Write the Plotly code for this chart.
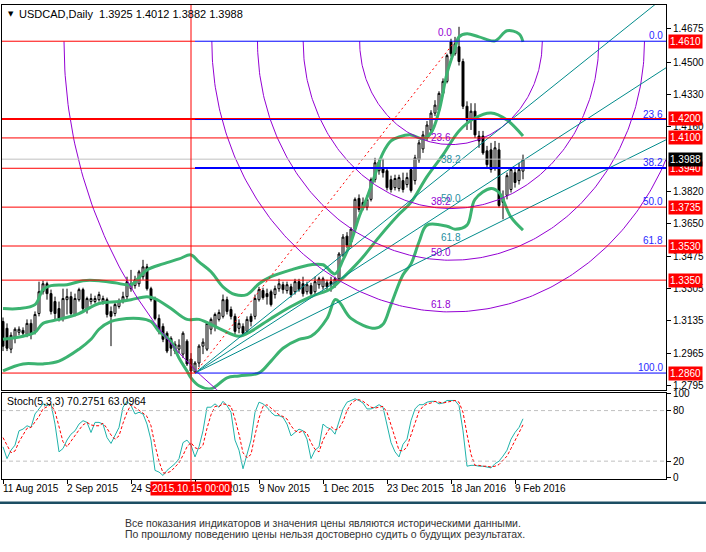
import numpy as np
import plotly.graph_objects as go

# USDCAD Daily, bar 0 = 11 Aug 2015 (um candle por dia de pregão)
bar_open = [1.3132, 1.3096, 1.2986, 1.3049, 1.3075, 1.3085, 1.3064, 1.3122, 1.3080, 1.3174,
            1.3289, 1.3331, 1.3279, 1.3237, 1.3200, 1.3148, 1.3247, 1.3263, 1.3169, 1.3247,
            1.3300, 1.3195, 1.3237, 1.3237, 1.3247, 1.3237, 1.3247, 1.3185, 1.3174, 1.3211,
            1.3237, 1.3263, 1.3305, 1.3321, 1.3331, 1.3368, 1.3420, 1.3305, 1.3253, 1.3148,
            1.3106, 1.3070, 1.3043, 1.2976, 1.2986, 1.2960, 1.3028, 1.2934, 1.2866, 1.2913,
            1.3002, 1.2986, 1.3091, 1.3106, 1.3143, 1.3159, 1.3247, 1.3195, 1.3159, 1.3096,
            1.3106, 1.3080, 1.3159, 1.3159, 1.3247, 1.3295, 1.3279, 1.3289, 1.3274, 1.3305,
            1.3326, 1.3295, 1.3315, 1.3289, 1.3342, 1.3331, 1.3289, 1.3321, 1.3289, 1.3326,
            1.3315, 1.3336, 1.3342, 1.3321, 1.3357, 1.3483, 1.3582, 1.3551, 1.3619, 1.3781,
            1.3760, 1.3734, 1.3776, 1.3880, 1.3927, 1.3943, 1.3927, 1.3880, 1.3838, 1.3833,
            1.3875, 1.3854, 1.3933, 1.3875, 1.3985, 1.4042, 1.4100, 1.4142, 1.4231, 1.4246,
            1.4335, 1.4398, 1.4607, 1.4544, 1.4581, 1.4503, 1.4267, 1.4194, 1.4241, 1.4110,
            1.4110, 1.4032, 1.4037, 1.3943, 1.4037, 1.3786, 1.3797, 1.3828, 1.3917, 1.3875,
            1.3925]
bar_high = [1.3153, 1.3122, 1.3075, 1.3101, 1.3106, 1.3101, 1.3143, 1.3143, 1.3185, 1.3342,
            1.3347, 1.3342, 1.3300, 1.3263, 1.3237, 1.3305, 1.3305, 1.3289, 1.3279, 1.3310,
            1.3310, 1.3263, 1.3279, 1.3268, 1.3289, 1.3268, 1.3258, 1.3211, 1.3237, 1.3253,
            1.3289, 1.3368, 1.3404, 1.3373, 1.3404, 1.3457, 1.3436, 1.3315, 1.3263, 1.3169,
            1.3122, 1.3080, 1.3054, 1.3028, 1.3038, 1.3080, 1.3038, 1.2965, 1.2923, 1.3012,
            1.3043, 1.3132, 1.3153, 1.3179, 1.3195, 1.3274, 1.3263, 1.3211, 1.3174, 1.3143,
            1.3122, 1.3159, 1.3174, 1.3274, 1.3315, 1.3310, 1.3305, 1.3300, 1.3321, 1.3357,
            1.3342, 1.3342, 1.3331, 1.3357, 1.3357, 1.3368, 1.3342, 1.3336, 1.3368, 1.3368,
            1.3368, 1.3352, 1.3368, 1.3368, 1.3498, 1.3593, 1.3603, 1.3629, 1.3786, 1.3802,
            1.3786, 1.3797, 1.3891, 1.3995, 1.3990, 1.3990, 1.3943, 1.3901, 1.3906, 1.3906,
            1.3917, 1.3917, 1.3943, 1.4011, 1.4089, 1.4137, 1.4189, 1.4246, 1.4299, 1.4346,
            1.4414, 1.4544, 1.4623, 1.4633, 1.4686, 1.4518, 1.4293, 1.4283, 1.4283, 1.4137,
            1.4137, 1.4058, 1.4074, 1.4084, 1.4074, 1.3823, 1.3917, 1.3943, 1.3943, 1.3969,
            1.4012]
bar_low = [1.2976, 1.2976, 1.2965, 1.3017, 1.3059, 1.3049, 1.3049, 1.3038, 1.3064, 1.3159,
           1.3274, 1.3247, 1.3169, 1.3143, 1.3132, 1.3132, 1.3169, 1.3159, 1.3159, 1.3237,
           1.3185, 1.3174, 1.3221, 1.3227, 1.3237, 1.3221, 1.3153, 1.3002, 1.3159, 1.3200,
           1.3227, 1.3247, 1.3289, 1.3305, 1.3315, 1.3352, 1.3295, 1.3237, 1.3138, 1.3064,
           1.3023, 1.2965, 1.2949, 1.2960, 1.2965, 1.2939, 1.2897, 1.2840, 1.2860, 1.2892,
           1.2960, 1.2976, 1.3064, 1.3080, 1.3132, 1.3148, 1.3169, 1.3143, 1.3064, 1.3070,
           1.3054, 1.3064, 1.3106, 1.3143, 1.3237, 1.3247, 1.3221, 1.3211, 1.3253, 1.3289,
           1.3279, 1.3279, 1.3258, 1.3274, 1.3289, 1.3263, 1.3274, 1.3268, 1.3274, 1.3305,
           1.3300, 1.3289, 1.3289, 1.3310, 1.3347, 1.3472, 1.3519, 1.3525, 1.3608, 1.3708,
           1.3718, 1.3718, 1.3765, 1.3865, 1.3906, 1.3891, 1.3823, 1.3812, 1.3823, 1.3818,
           1.3812, 1.3838, 1.3812, 1.3854, 1.3969, 1.4021, 1.4084, 1.4126, 1.4215, 1.4231,
           1.4320, 1.4388, 1.4529, 1.4534, 1.4482, 1.4252, 1.4142, 1.4142, 1.4100, 1.4048,
           1.4011, 1.3943, 1.3917, 1.3927, 1.3734, 1.3671, 1.3776, 1.3812, 1.3838, 1.3854,
           1.3882]
bar_close = [1.3002, 1.2991, 1.3059, 1.3091, 1.3091, 1.3070, 1.3122, 1.3070, 1.3169, 1.3289,
             1.3331, 1.3279, 1.3185, 1.3174, 1.3148, 1.3253, 1.3263, 1.3174, 1.3253, 1.3300,
             1.3200, 1.3253, 1.3253, 1.3253, 1.3274, 1.3253, 1.3169, 1.3159, 1.3221, 1.3237,
             1.3263, 1.3342, 1.3331, 1.3352, 1.3394, 1.3420, 1.3305, 1.3247, 1.3148, 1.3080,
             1.3038, 1.2976, 1.2991, 1.3012, 1.3007, 1.3070, 1.2908, 1.2871, 1.2913, 1.3002,
             1.3023, 1.3122, 1.3143, 1.3169, 1.3179, 1.3247, 1.3185, 1.3159, 1.3080, 1.3122,
             1.3070, 1.3143, 1.3132, 1.3253, 1.3300, 1.3258, 1.3263, 1.3221, 1.3305, 1.3331,
             1.3300, 1.3326, 1.3274, 1.3342, 1.3300, 1.3279, 1.3326, 1.3279, 1.3342, 1.3357,
             1.3357, 1.3315, 1.3326, 1.3357, 1.3488, 1.3577, 1.3535, 1.3619, 1.3776, 1.3723,
             1.3729, 1.3776, 1.3880, 1.3969, 1.3974, 1.3917, 1.3838, 1.3828, 1.3886, 1.3891,
             1.3828, 1.3891, 1.3823, 1.3995, 1.4074, 1.4116, 1.4168, 1.4231, 1.4273, 1.4335,
             1.4398, 1.4534, 1.4544, 1.4597, 1.4503, 1.4267, 1.4194, 1.4241, 1.4116, 1.4084,
             1.4021, 1.3959, 1.3933, 1.4048, 1.3744, 1.3760, 1.3901, 1.3933, 1.3865, 1.3933,
             1.3988]
bar_idx = list(range(len(bar_close)))

bb_upper_idx = [0, 4, 8, 10, 12, 16, 20, 24, 28, 32, 34, 36, 40, 44, 47, 49, 52, 55, 58, 61,
                64, 67, 72, 77, 80, 83, 85, 87, 89, 91, 93, 95, 97, 99, 102, 105, 107, 109, 111, 113,
                114, 116, 119, 123, 126, 129, 130]
bb_upper = [1.3200, 1.3200, 1.3221, 1.3300, 1.3321, 1.3326, 1.3347, 1.3347, 1.3336, 1.3326,
            1.3363, 1.3404, 1.3436, 1.3462, 1.3483, 1.3446, 1.3394, 1.3315, 1.3274, 1.3274,
            1.3331, 1.3368, 1.3404, 1.3431, 1.3431, 1.3383, 1.3457, 1.3551, 1.3682, 1.3786,
            1.3906, 1.4021, 1.4084, 1.4105, 1.4116, 1.4095, 1.4126, 1.4241, 1.4440, 1.4571,
            1.4633, 1.4649, 1.4633, 1.4612, 1.4665, 1.4649, 1.4607]
bb_mid_idx = [0, 5, 8, 10, 14, 19, 24, 29, 32, 36, 38, 42, 46, 49, 54, 59, 62, 67, 72, 77,
              82, 84, 87, 90, 94, 99, 102, 106, 110, 114, 118, 122, 126, 130]
bb_mid = [1.3038, 1.3054, 1.3075, 1.3122, 1.3143, 1.3174, 1.3227, 1.3237, 1.3247, 1.3263,
          1.3253, 1.3200, 1.3143, 1.3143, 1.3096, 1.3054, 1.3080, 1.3148, 1.3211, 1.3263,
          1.3305, 1.3342, 1.3404, 1.3472, 1.3577, 1.3697, 1.3760, 1.3896, 1.4011, 1.4137,
          1.4205, 1.4231, 1.4194, 1.4110]
bb_lower_idx = [0, 5, 10, 14, 19, 22, 24, 27, 29, 34, 37, 39, 42, 44, 46, 47, 49, 52, 56, 59,
                64, 67, 70, 74, 77, 81, 83, 84, 87, 93, 95, 97, 100, 102, 104, 106, 111, 113, 116, 118,
                122, 124, 127, 130]
bb_lower = [1.2871, 1.2908, 1.2908, 1.2923, 1.2986, 1.3038, 1.3091, 1.3132, 1.3143, 1.3148,
            1.3132, 1.3080, 1.3028, 1.2939, 1.2871, 1.2835, 1.2793, 1.2777, 1.2835, 1.2845,
            1.2861, 1.2923, 1.2991, 1.3038, 1.3054, 1.3148, 1.3247, 1.3237, 1.3148, 1.3096,
            1.3117, 1.3221, 1.3378, 1.3436, 1.3551, 1.3640, 1.3634, 1.3619, 1.3640, 1.3776,
            1.3833, 1.3812, 1.3682, 1.3614]

# Stoch(5,3,3)
stoch_k = [37, 23, 33, 39, 56, 58, 62, 60, 76, 82,
           88, 86, 88, 64, 31, 35, 45, 52, 56, 64,
           68, 66, 54, 66, 66, 64, 48, 41, 50, 60,
           84, 91, 86, 76, 78, 76, 64, 45, 9, 7,
           3, 9, 13, 17, 23, 42, 45, 39, 25, 37,
           56, 84, 84, 88, 84, 91, 86, 78, 45, 33,
           11, 29, 45, 78, 90, 88, 84, 78, 74, 74,
           72, 64, 50, 54, 58, 56, 46, 23, 33, 37,
           64, 60, 58, 52, 68, 82, 90, 92, 94, 92,
           89, 82, 82, 84, 87, 84, 64, 42, 31, 25,
           40, 46, 68, 82, 87, 87, 90, 91, 91, 88,
           89, 92, 92, 92, 86, 56, 14, 15, 15, 14,
           14, 13, 12, 17, 20, 26, 33, 46, 54, 60,
           70.28]
stoch_d = [48, 38, 30, 32, 43, 51, 59, 60, 66, 73,
           82, 85, 87, 79, 61, 43, 37, 44, 51, 57,
           63, 66, 63, 62, 62, 65, 59, 51, 46, 50,
           65, 78, 87, 84, 80, 77, 73, 62, 39, 20,
           6, 6, 8, 13, 18, 27, 37, 42, 36, 34,
           39, 59, 75, 85, 85, 88, 87, 85, 70, 52,
           30, 24, 28, 51, 71, 85, 87, 83, 79, 75,
           73, 70, 62, 56, 54, 56, 53, 42, 34, 31,
           45, 54, 61, 57, 59, 67, 80, 88, 92, 93,
           91, 88, 84, 83, 84, 85, 78, 63, 46, 33,
           32, 37, 51, 65, 79, 85, 88, 89, 91, 90,
           89, 90, 91, 92, 90, 78, 52, 28, 15, 15,
           14, 14, 13, 14, 16, 21, 26, 35, 44, 53,
           63.10]

date_ticks = [0, 16, 32, 48, 64, 80, 96, 112, 128]
date_labels = ["11 Aug 2015", "2 Sep 2015", "24 Sep 2015", "16 Oct 2015", "9 Nov 2015",
               "1 Dec 2015", "23 Dec 2015", "18 Jan 2016", "9 Feb 2016"]
price_ticks = [1.4675, 1.4500, 1.4330, 1.4160, 1.3820, 1.3650, 1.3475, 1.3305, 1.3135, 1.2965, 1.2795]
level_lines = [1.4610, 1.4200, 1.4100, 1.3940, 1.3735, 1.3530, 1.3350, 1.2860]
last_price = 1.3988
cursor_bar = 47

# objetos fibo
fib_low = (48, 1.2860)
fib_high = (113, 1.4610)
fib_levels = [0.0, 23.6, 38.2, 50.0, 61.8, 100.0]
fib_blue = [0.0, 23.6, 38.2, 100.0]
fan_levels = [38.2, 50.0, 61.8]
fan_x2 = 112
arc_levels = [23.6, 38.2, 50.0, 61.8, 100.0]
arc_center = (112, 1.4610)
arc_rx = 96.75   # barras para 100%
arc_ry = 0.231   # preço para 100%

X0, X1 = -0.25, 165.75
FONT = "Liberation Sans"

fig = go.Figure()

fig.add_trace(go.Candlestick(
    x=bar_idx, open=bar_open, high=bar_high, low=bar_low, close=bar_close,
    increasing=dict(line=dict(color="black", width=1), fillcolor="white"),
    decreasing=dict(line=dict(color="black", width=1), fillcolor="black"),
    whiskerwidth=0, showlegend=False, hoverinfo="skip", xaxis="x", yaxis="y"))

for xs, ys in [(bb_upper_idx, bb_upper), (bb_mid_idx, bb_mid), (bb_lower_idx, bb_lower)]:
    fig.add_trace(go.Scatter(x=xs, y=ys, mode="lines", showlegend=False, hoverinfo="skip",
                             line=dict(color="#3cb371", width=3, shape="spline"),
                             xaxis="x", yaxis="y"))

# arcos de fibonacci
t = np.linspace(0, np.pi, 240)
for lv in arc_levels:
    fig.add_trace(go.Scatter(
        x=arc_center[0] + arc_rx * lv / 100 * np.cos(t),
        y=arc_center[1] - arc_ry * lv / 100 * np.sin(t),
        mode="lines", line=dict(color="#9400d3", width=1),
        showlegend=False, hoverinfo="skip", xaxis="x", yaxis="y"))

# leque de fibonacci
span = fib_high[1] - fib_low[1]
for lv in fan_levels:
    p2 = fib_high[1] - span * lv / 100
    slope = (p2 - fib_low[1]) / (fan_x2 - fib_low[0])
    fig.add_trace(go.Scatter(
        x=[fib_low[0], X1], y=[fib_low[1], fib_low[1] + slope * (X1 - fib_low[0])],
        mode="lines", line=dict(color="#008b8b", width=1),
        showlegend=False, hoverinfo="skip", xaxis="x", yaxis="y"))

# linha de tendência fibo
fig.add_trace(go.Scatter(x=[fib_low[0], fib_high[0]], y=[fib_low[1], fib_high[1]], mode="lines",
                         line=dict(color="red", width=1, dash="2px,3px"),
                         showlegend=False, hoverinfo="skip", xaxis="x", yaxis="y"))

# estocástico
fig.add_trace(go.Scatter(x=bar_idx, y=stoch_k, mode="lines", line=dict(color="#20b2aa", width=1),
                         showlegend=False, hoverinfo="skip", xaxis="x2", yaxis="y2"))
fig.add_trace(go.Scatter(x=bar_idx, y=stoch_d, mode="lines",
                         line=dict(color="red", width=1, dash="3px,2px"),
                         showlegend=False, hoverinfo="skip", xaxis="x2", yaxis="y2"))

fib_prices = [fib_high[1] - span * lv / 100 for lv in fib_blue]

shapes = []
shapes.append(dict(type="line", xref="paper", yref="y", x0=0, x1=1, y0=last_price, y1=last_price,
                   line=dict(color="#c0c0c0", width=1)))
for p in level_lines:
    # onde a linha azul do fibo cobre a vermelha, a vermelha só vai até o início do fibo
    covered = any(abs(p - fp) < 0.0001 for fp in fib_prices)
    shapes.append(dict(type="line", xref="x", yref="y", x0=X0, x1=fib_low[0] if covered else X1,
                       y0=p, y1=p, line=dict(color="red", width=2 if p == 1.4200 else 1)))
for lv, p in zip(fib_blue, fib_prices):
    shapes.append(dict(type="line", xref="x", yref="y", x0=fib_low[0], x1=X1, y0=p, y1=p,
                       line=dict(color="#0000ff", width=2 if lv == 38.2 else 1)))
shapes.append(dict(type="line", xref="x", yref="paper", x0=cursor_bar, x1=cursor_bar, y0=-0.021, y1=1,
                   line=dict(color="red", width=1)))
for v in [80, 20]:
    shapes.append(dict(type="line", xref="paper", yref="y2", x0=0, x1=1, y0=v, y1=v,
                       line=dict(color="#c0c0c0", width=1, dash="4px,3px")))
shapes.append(dict(type="line", xref="paper", yref="paper", x0=-0.01, x1=1.07, y0=-0.0502, y1=-0.0502,
                   line=dict(color="#1c4e63", width=2.5)))

ann = []
# fibo: rótulos azuis à direita
for lv in fib_levels:
    p = fib_high[1] - span * lv / 100
    ann.append(dict(xref="paper", yref="y", x=0.998, y=p, text=f"{lv:.1f}", showarrow=False,
                    xanchor="right", yanchor="bottom", yshift=-2,
                    font=dict(family=FONT, size=10, color="#2828ff")))
# arcos: rótulos roxos
ann.append(dict(xref="x", yref="y", x=arc_center[0] - 1.5, y=arc_center[1], text="0.0", showarrow=False,
                yanchor="bottom", yshift=1, font=dict(family=FONT, size=10, color="#9400d3")))
for lv in arc_levels[:-1]:
    ann.append(dict(xref="x", yref="y", x=arc_center[0] - 2.5, y=arc_center[1] - arc_ry * lv / 100,
                    text=f"{lv:.1f}", showarrow=False, yanchor="bottom", yshift=0,
                    font=dict(family=FONT, size=10, color="#9400d3")))
# leque: rótulos
for lv in fan_levels:
    p2 = fib_high[1] - span * lv / 100
    ann.append(dict(xref="x", yref="y", x=fan_x2, y=p2, text=f"{lv:.1f}", showarrow=False,
                    yanchor="bottom", yshift=1, font=dict(family=FONT, size=10, color="#1f8f9f")))

# caixas de preço no eixo
for p in level_lines:
    ann.append(dict(xref="paper", yref="y", x=1.003, y=p, text=f"{p:.4f}", showarrow=False,
                    xanchor="left", yanchor="middle", bgcolor="red", borderpad=1,
                    font=dict(family=FONT, size=10, color="white")))
ann.append(dict(xref="paper", yref="y", x=1.003, y=last_price, text=f"{last_price:.4f}", showarrow=False,
                xanchor="left", yanchor="middle", bgcolor="black", borderpad=1,
                font=dict(family=FONT, size=10, color="white")))

# datas
for tv, tl in zip(date_ticks, date_labels):
    ann.append(dict(xref="x2", yref="paper", x=tv, y=-0.021, text=tl, showarrow=False,
                    xanchor="left", yanchor="middle", xshift=-2,
                    font=dict(family=FONT, size=10, color="black")))
ann.append(dict(xref="x2", yref="paper", x=cursor_bar, y=-0.021, text="2015.10.15 00:00", showarrow=False,
                xanchor="center", yanchor="middle", bgcolor="red", borderpad=1,
                font=dict(family=FONT, size=10, color="white")))

# títulos
ann.append(dict(xref="paper", yref="paper", x=0.006, y=0.981, text="▼", showarrow=False,
                xanchor="left", yanchor="middle", font=dict(family="DejaVu Sans", size=7, color="black")))
ann.append(dict(xref="paper", yref="paper", x=0.022, y=0.981,
                text="USDCAD,Daily  1.3925 1.4012 1.3882 1.3988", showarrow=False,
                xanchor="left", yanchor="middle", font=dict(family=FONT, size=11, color="black")))
ann.append(dict(xref="paper", yref="paper", x=0.005, y=0.165, text="Stoch(5,3,3) 70.2751 63.0964",
                showarrow=False, xanchor="left", yanchor="middle",
                font=dict(family=FONT, size=10.5, color="black")))

# aviso no rodapé
ann.append(dict(xref="paper", yref="paper", x=0.182, y=-0.092,
                text="Все показания индикаторов и значения цены являются историческими данными.",
                showarrow=False, xanchor="left", yanchor="middle",
                font=dict(family=FONT, size=10.5, color="#333333")))
ann.append(dict(xref="paper", yref="paper", x=0.182, y=-0.117,
                text="По прошлому поведению цены нельзя достоверно судить о будущих результатах.",
                showarrow=False, xanchor="left", yanchor="middle",
                font=dict(family=FONT, size=10.5, color="#333333")))

fig.update_layout(
    width=706, height=552,
    margin=dict(l=2, r=40, t=1, b=73),
    paper_bgcolor="white", plot_bgcolor="white",
    font=dict(family=FONT, size=10, color="black"),
    showlegend=False, hovermode=False,
    xaxis=dict(domain=[0, 1], anchor="y", range=[X0, X1], showgrid=False, zeroline=False,
               showline=True, mirror=True, linecolor="black", linewidth=1,
               showticklabels=False, ticks="", rangeslider=dict(visible=False)),
    yaxis=dict(domain=[0.1883, 1], anchor="x", range=[1.2772, 1.4801], side="right",
               showgrid=False, zeroline=False, showline=True, mirror=True, linecolor="black",
               linewidth=1, tickvals=price_ticks, ticktext=[f"{v:.4f}" for v in price_ticks],
               ticks="outside", ticklen=4, tickcolor="black", tickfont=dict(size=10)),
    xaxis2=dict(domain=[0, 1], anchor="y2", range=[X0, X1], matches="x", showgrid=False,
                zeroline=False, showline=True, mirror=True, linecolor="black", linewidth=1,
                tickvals=date_ticks, showticklabels=False, ticks="outside", ticklen=4,
                tickcolor="black"),
    yaxis2=dict(domain=[0, 0.182], anchor="x2", range=[-1.2, 101.2], side="right",
                showgrid=False, zeroline=False, showline=True, mirror=True, linecolor="black",
                linewidth=1, tickvals=[100, 80, 20, 0], ticks="outside", ticklen=4,
                tickcolor="black", tickfont=dict(size=10)),
    shapes=shapes,
    annotations=ann,
)

# sem margem do body e sem modebar, para a figura caber inteira na janela
fig.write_html("out.html", config={"displayModeBar": False},
               post_script="document.body.style.margin='0';")
